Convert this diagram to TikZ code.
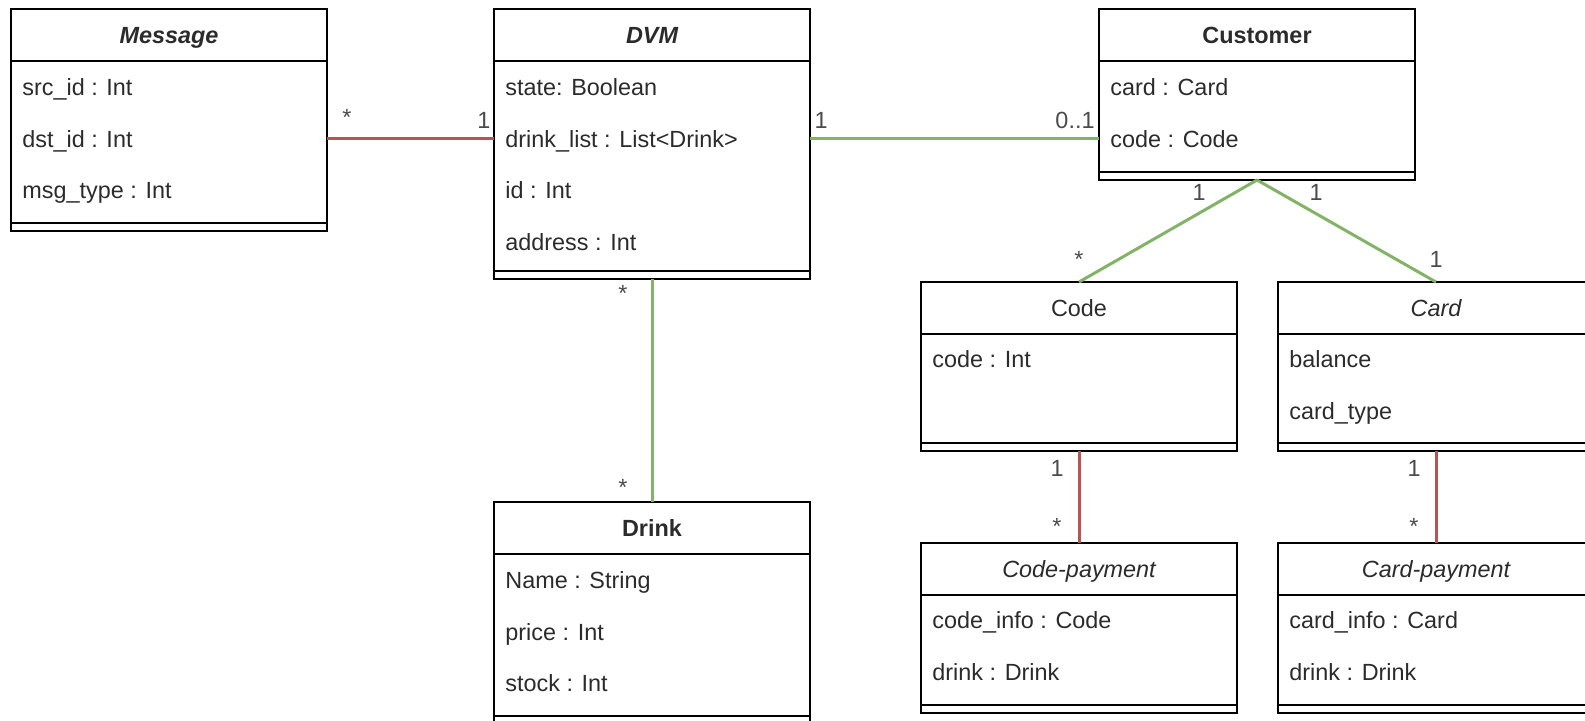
\documentclass[tikz,border=0pt]{standalone}
\usepackage{fontspec}
\setmainfont{Liberation Sans}
\usepackage{tikz}
\usetikzlibrary{positioning,calc}
\definecolor{assocgreen}{HTML}{82B366}
\definecolor{assocred}{HTML}{B85450}
\definecolor{umltext}{HTML}{2B2B2B}
\def\ClassWidth{158pt}
\def\HeadHeight{26pt}
\def\FootHeight{4pt}
\newcommand\umlfont{\fontsize{11.7}{14}\selectfont}
\tikzset{
	classhead/.style={draw, minimum width=\ClassWidth, minimum height=\HeadHeight, inner sep=0pt, outer sep=0pt, line width=0.9pt, font=\umlfont, text=umltext, text height=10pt, text depth=1.6pt},
	classbody/.style={draw, minimum width=\ClassWidth, inner sep=0pt, outer sep=0pt, line width=0.9pt},
	classfoot/.style={classbody, minimum height=\FootHeight},
	attr/.style={anchor=west, inner sep=0pt, font=\umlfont, text=umltext, text height=8.6pt, text depth=0pt},
	mult/.style={inner sep=0pt, font=\umlfont, text=umltext!85},
	greenlink/.style={draw=assocgreen, line width=1.5pt},
	redlink/.style={draw=assocred, line width=1.5pt},
}

\begin{document}
\begin{tikzpicture}[x=0.5pt,y=-0.5pt]
	\clip (0,0) rectangle (1585,720);
	% top row
	\node[classhead, anchor=north west, font=\umlfont\bfseries\itshape] (msg) at (11,9) {Message};
	\node[classbody, minimum height=81pt, below=0pt of msg] (msg-b) {};
	\node[classfoot, below=0pt of msg-b] (msg-f) {};
	\node[classhead, right=83.5pt of msg, font=\umlfont\bfseries\itshape] (dvm) {DVM};
	\node[classbody, minimum height=105pt, below=0pt of dvm] (dvm-b) {};
	\node[classfoot, below=0pt of dvm-b] (dvm-f) {};
	\node[classhead, right=144.5pt of dvm, font=\umlfont\bfseries] (cust) {Customer};
	\node[classbody, minimum height=55.5pt, below=0pt of cust] (cust-b) {};
	\node[classfoot, below=0pt of cust-b] (cust-f) {};
	% 
	\node[classhead, below=111.5pt of dvm-f, font=\umlfont\bfseries] (drink) {Drink};
	\node[classbody, minimum height=81pt, below=0pt of drink] (drink-b) {};
	\node[classfoot, below=0pt of drink-b] (drink-f) {};
	% payment side
	\node[classhead, anchor=north west] (code) at (921,282) {Code};
	\node[classbody, minimum height=54.5pt, below=0pt of code] (code-b) {};
	\node[classfoot, below=0pt of code-b] (code-f) {};
	\node[classhead, right=20.5pt of code, font=\umlfont\itshape] (card) {Card};
	\node[classbody, minimum height=54.5pt, below=0pt of card] (card-b) {};
	\node[classfoot, below=0pt of card-b] (card-f) {};
	\node[classhead, below=46pt of code-f, font=\umlfont\itshape] (codepay) {Code-payment};
	\node[classbody, minimum height=55pt, below=0pt of codepay] (codepay-b) {};
	\node[classfoot, below=0pt of codepay-b] (codepay-f) {};
	\node[classhead, below=46pt of card-f, font=\umlfont\itshape] (cardpay) {Card-payment};
	\node[classbody, minimum height=55pt, below=0pt of cardpay] (cardpay-b) {};
	\node[classfoot, below=0pt of cardpay-b] (cardpay-f) {};
	% attributes
	\foreach \t [count=\i] in {src\_id : Int, dst\_id : Int, msg\_type : Int}
		\node[attr] (msg-a\i) at ($(msg-b.north west)+(11,{26+(\i-1)*51.5})$) {\t};
	\foreach \t [count=\i] in {state: Boolean, drink\_list : List<Drink>, id : Int, address : Int}
		\node[attr] (dvm-a\i) at ($(dvm-b.north west)+(11,{26+(\i-1)*51.5})$) {\t};
	\foreach \t [count=\i] in {card : Card, code : Code}
		\node[attr] (cust-a\i) at ($(cust-b.north west)+(11,{26+(\i-1)*51.5})$) {\t};
	\foreach \t [count=\i] in {Name : String, price : Int, stock : Int}
		\node[attr] (drink-a\i) at ($(drink-b.north west)+(11,{26+(\i-1)*51.5})$) {\t};
	\node[attr] (code-a1) at ($(code-b.north west)+(11,25)$) {code : Int};
	\foreach \t [count=\i] in {balance, card\_type}
		\node[attr] (card-a\i) at ($(card-b.north west)+(11,{25+(\i-1)*51.5})$) {\t};
	\foreach \t [count=\i] in {code\_info : Code, drink : Drink}
		\node[attr] (codepay-a\i) at ($(codepay-b.north west)+(11,{25+(\i-1)*51.5})$) {\t};
	\foreach \t [count=\i] in {card\_info : Card, drink : Drink}
		\node[attr] (cardpay-a\i) at ($(cardpay-b.north west)+(11,{25+(\i-1)*51.5})$) {\t};
	% associations
	\draw[redlink] (msg-b.east |- dvm-a2.west) -- (dvm-b.west |- dvm-a2.west)
		node[mult, pos=0, xshift=10pt, yshift=10.5pt] {*}
		node[mult, pos=1, xshift=-5pt, yshift=9.25pt] {1};
	\draw[greenlink] (dvm-b.east |- dvm-a2.west) -- (cust-b.west |- dvm-a2.west)
		node[mult, pos=0, xshift=5.5pt, yshift=9.25pt] {1}
		node[mult, pos=1, xshift=-12pt, yshift=9.25pt] {0..1};
	\draw[greenlink] (dvm-f.south) -- (drink.north)
		node[mult, pos=0, xshift=-14.5pt, yshift=-7pt] {*}
		node[mult, pos=1, xshift=-14.5pt, yshift=7.5pt] {*};
	\draw[greenlink] (cust-f.south) -- (code.north)
		node[mult, pos=0, xshift=-29pt, yshift=-6pt] {1}
		node[mult, pos=1, yshift=11.5pt] {*};
	\draw[greenlink] (cust-f.south) -- (card.north)
		node[mult, pos=0, xshift=29.5pt, yshift=-6pt] {1}
		node[mult, pos=1, yshift=11.5pt] {1};
	\draw[redlink] (code-f.south) -- (codepay.north)
		node[mult, pos=0, xshift=-11pt, yshift=-8.5pt] {1}
		node[mult, pos=1, xshift=-11pt, yshift=8.5pt] {*};
	\draw[redlink] (card-f.south) -- (cardpay.north)
		node[mult, pos=0, xshift=-11pt, yshift=-8.5pt] {1}
		node[mult, pos=1, xshift=-11pt, yshift=8.5pt] {*};
\end{tikzpicture}
\end{document}
